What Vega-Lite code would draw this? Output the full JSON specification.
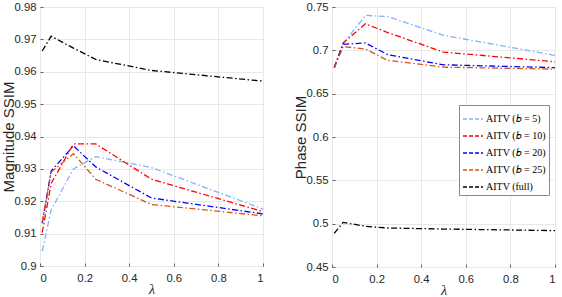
{
  "$schema": "https://vega.github.io/schema/vega-lite/v6.json",
  "background": "white",
  "padding": {"left": 0, "top": 0, "right": 0, "bottom": 0},
  "spacing": 28,
  "config": {
    "view": {"stroke": "#707070", "strokeWidth": 1},
    "axis": {
      "labelFont": "Liberation Sans", "labelFontSize": 11.3, "labelColor": "#262626",
      "titleFont": "Liberation Sans", "titleFontSize": 15, "titleColor": "#262626", "titleFontWeight": "normal",
      "gridColor": "#e8e8e8", "gridWidth": 1, "domain": false,
      "ticks": true, "tickSize": -3, "tickColor": "#404040", "tickWidth": 0.8
    },
    "axisX": {"labelPadding": 9, "titleFont": "Liberation Serif", "titleFontStyle": "italic", "titleFontSize": 14, "titleY": 16, "titleBaseline": "top"},
    "axisY": {"labelPadding": 7, "titleX": -24}
  },
  "datasets": {
    "d": [
      {"p": "mag", "s": "b5", "x": 0.01, "y": 0.9046},
      {"p": "mag", "s": "b5", "x": 0.05, "y": 0.9173},
      {"p": "mag", "s": "b5", "x": 0.15, "y": 0.9300},
      {"p": "mag", "s": "b5", "x": 0.25, "y": 0.9338},
      {"p": "mag", "s": "b5", "x": 0.5, "y": 0.9304},
      {"p": "mag", "s": "b5", "x": 1, "y": 0.9176},
      {"p": "mag", "s": "b10", "x": 0.01, "y": 0.9103},
      {"p": "mag", "s": "b10", "x": 0.05, "y": 0.9255},
      {"p": "mag", "s": "b10", "x": 0.15, "y": 0.9377},
      {"p": "mag", "s": "b10", "x": 0.25, "y": 0.9377},
      {"p": "mag", "s": "b10", "x": 0.5, "y": 0.9268},
      {"p": "mag", "s": "b10", "x": 1, "y": 0.9168},
      {"p": "mag", "s": "b20", "x": 0.01, "y": 0.9132},
      {"p": "mag", "s": "b20", "x": 0.05, "y": 0.9293},
      {"p": "mag", "s": "b20", "x": 0.15, "y": 0.9371},
      {"p": "mag", "s": "b20", "x": 0.25, "y": 0.9306},
      {"p": "mag", "s": "b20", "x": 0.5, "y": 0.9210},
      {"p": "mag", "s": "b20", "x": 1, "y": 0.9161},
      {"p": "mag", "s": "b25", "x": 0.01, "y": 0.9137},
      {"p": "mag", "s": "b25", "x": 0.05, "y": 0.9290},
      {"p": "mag", "s": "b25", "x": 0.15, "y": 0.9347},
      {"p": "mag", "s": "b25", "x": 0.25, "y": 0.9268},
      {"p": "mag", "s": "b25", "x": 0.5, "y": 0.9190},
      {"p": "mag", "s": "b25", "x": 1, "y": 0.9155},
      {"p": "mag", "s": "full", "x": 0.01, "y": 0.9664},
      {"p": "mag", "s": "full", "x": 0.05, "y": 0.9710},
      {"p": "mag", "s": "full", "x": 0.15, "y": 0.9673},
      {"p": "mag", "s": "full", "x": 0.25, "y": 0.9638},
      {"p": "mag", "s": "full", "x": 0.5, "y": 0.9604},
      {"p": "mag", "s": "full", "x": 1, "y": 0.9571},
      {"p": "ph", "s": "b5", "x": 0.01, "y": 0.680},
      {"p": "ph", "s": "b5", "x": 0.05, "y": 0.7078},
      {"p": "ph", "s": "b5", "x": 0.15, "y": 0.7403},
      {"p": "ph", "s": "b5", "x": 0.25, "y": 0.7390},
      {"p": "ph", "s": "b5", "x": 0.5, "y": 0.7174},
      {"p": "ph", "s": "b5", "x": 1, "y": 0.6942},
      {"p": "ph", "s": "b10", "x": 0.01, "y": 0.680},
      {"p": "ph", "s": "b10", "x": 0.05, "y": 0.7085},
      {"p": "ph", "s": "b10", "x": 0.15, "y": 0.7306},
      {"p": "ph", "s": "b10", "x": 0.25, "y": 0.7205},
      {"p": "ph", "s": "b10", "x": 0.5, "y": 0.6980},
      {"p": "ph", "s": "b10", "x": 1, "y": 0.6868},
      {"p": "ph", "s": "b20", "x": 0.01, "y": 0.680},
      {"p": "ph", "s": "b20", "x": 0.05, "y": 0.7070},
      {"p": "ph", "s": "b20", "x": 0.15, "y": 0.7085},
      {"p": "ph", "s": "b20", "x": 0.25, "y": 0.6950},
      {"p": "ph", "s": "b20", "x": 0.5, "y": 0.6833},
      {"p": "ph", "s": "b20", "x": 1, "y": 0.6800},
      {"p": "ph", "s": "b25", "x": 0.01, "y": 0.680},
      {"p": "ph", "s": "b25", "x": 0.05, "y": 0.7043},
      {"p": "ph", "s": "b25", "x": 0.15, "y": 0.7015},
      {"p": "ph", "s": "b25", "x": 0.25, "y": 0.6884},
      {"p": "ph", "s": "b25", "x": 0.5, "y": 0.6806},
      {"p": "ph", "s": "b25", "x": 1, "y": 0.6783},
      {"p": "ph", "s": "full", "x": 0.01, "y": 0.4888},
      {"p": "ph", "s": "full", "x": 0.05, "y": 0.5015},
      {"p": "ph", "s": "full", "x": 0.15, "y": 0.4970},
      {"p": "ph", "s": "full", "x": 0.25, "y": 0.4950},
      {"p": "ph", "s": "full", "x": 0.5, "y": 0.4938},
      {"p": "ph", "s": "full", "x": 1, "y": 0.4920}
    ]
  },
  "resolve": {"legend": {"color": "independent"}, "scale": {"y": "independent"}},
  "hconcat": [
    {
      "width": 223, "height": 259,
      "data": {"name": "d"},
      "transform": [{"filter": "datum.p === 'mag'"}],
      "mark": {"type": "line", "strokeWidth": 1.3, "strokeDash": [6, 2.5, 1.5, 2.5], "clip": true},
      "encoding": {
        "x": {"field": "x", "type": "quantitative", "title": "λ",
              "scale": {"domain": [0, 1], "nice": false},
              "axis": {"values": [0, 0.2, 0.4, 0.6, 0.8, 1], "format": "~g"}},
        "y": {"field": "y", "type": "quantitative", "title": "Magnitude SSIM",
              "scale": {"domain": [0.9, 0.98], "nice": false, "zero": false},
              "axis": {"values": [0.9, 0.91, 0.92, 0.93, 0.94, 0.95, 0.96, 0.97, 0.98], "format": ".2~f"}},
        "color": {"field": "s", "type": "nominal",
                  "scale": {"domain": ["b5", "b10", "b20", "b25", "full"], "range": ["#7fb2ff", "#ff0000", "#0000ff", "#d95319", "#000000"]},
                  "legend": null}
      }
    },
    {
      "width": 223, "height": 260,
      "data": {"name": "d"},
      "transform": [{"filter": "datum.p === 'ph'"}],
      "mark": {"type": "line", "strokeWidth": 1.3, "strokeDash": [6, 2.5, 1.5, 2.5], "clip": true},
      "encoding": {
        "x": {"field": "x", "type": "quantitative", "title": "λ",
              "scale": {"domain": [0, 1], "nice": false},
              "axis": {"values": [0, 0.2, 0.4, 0.6, 0.8, 1], "format": "~g"}},
        "y": {"field": "y", "type": "quantitative", "title": "Phase SSIM",
              "scale": {"domain": [0.45, 0.75], "nice": false, "zero": false},
              "axis": {"values": [0.45, 0.5, 0.55, 0.6, 0.65, 0.7, 0.75], "format": ".2~f"}},
        "color": {"field": "s", "type": "nominal",
                  "scale": {"domain": ["b5", "b10", "b20", "b25", "full"], "range": ["#7fb2ff", "#ff0000", "#0000ff", "#d95319", "#000000"]},
                  "legend": {
                    "orient": "none", "legendX": 127, "legendY": 98, "title": null,
                    "labelExpr": "datum.value === 'full' ? 'AITV (full)' : 'AITV (𝑏 = ' + slice(datum.value, 1) + ')'",
                    "labelFont": "Liberation Serif", "labelFontSize": 10, "labelColor": "#000000",
                    "symbolType": "stroke", "symbolSize": 400, "symbolStrokeWidth": 1.3, "symbolDash": [4, 2],
                    "rowPadding": 1, "padding": 3, "labelOffset": 2,
                    "strokeColor": "#8a8a8a", "fillColor": "#ffffff"
                  }}
      }
    }
  ]
}
